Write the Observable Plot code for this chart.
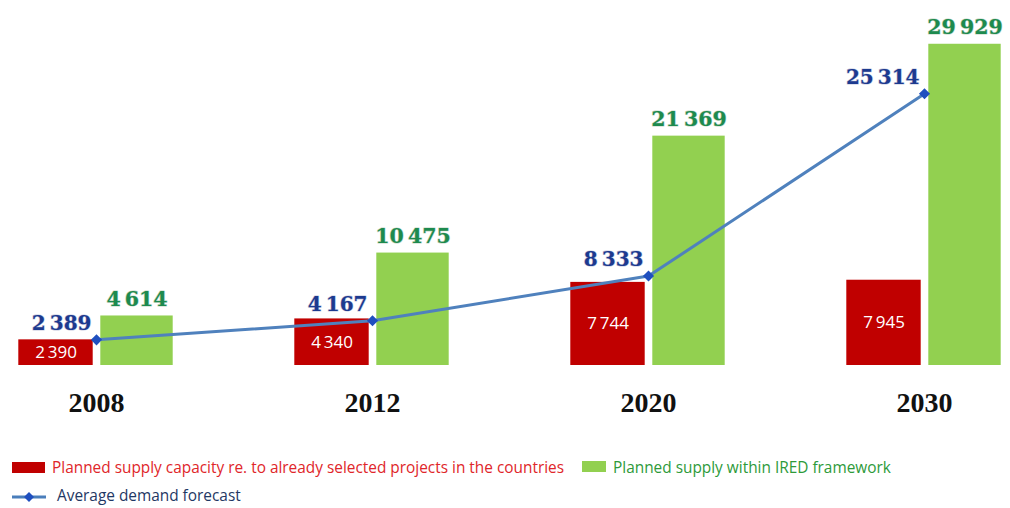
<!DOCTYPE html>
<html>
<head>
<meta charset="utf-8">
<script src="https://cdn.jsdelivr.net/npm/d3@7"></script>
<script src="https://cdn.jsdelivr.net/npm/@observablehq/plot@0.6"></script>
<style>
  html, body { margin: 0; padding: 0; background: #fff; }
  #wrap { position: relative; width: 1010px; height: 508px; overflow: hidden; }
  .leg { position: absolute; font-family: "Open Sans", sans-serif; font-size: 15.4px; white-space: nowrap; line-height: 18px; }
  .sw { position: absolute; }
</style>
</head>
<body>
<div id="wrap">
  <div id="chart"></div>
  <div class="sw" style="left:12px; top:462px; width:33px; height:11px; background:#c00000;"></div>
  <div class="leg" style="left:52px; top:459px; color:#e0262a;">Planned supply capacity re. to already selected projects in the countries</div>
  <div class="sw" style="left:582px; top:461px; width:24px; height:11px; background:#92d050;"></div>
  <div class="leg" style="left:613px; top:459px; color:#2e9a3a;">Planned supply within IRED framework</div>
  <svg class="sw" style="left:10px; top:490px;" width="38" height="14"><line x1="2" y1="7" x2="36" y2="7" stroke="#4a7ebb" stroke-width="3"/><path d="M19,2 L24,7 L19,12 L14,7 Z" fill="#1f4fbf"/></svg>
  <div class="leg" style="left:57px; top:487px; color:#1f3864;">Average demand forecast</div>
</div>
<script>
const years = ["2008", "2012", "2020", "2030"];
const selected = [2390, 4340, 7744, 7945];
const ired = [4614, 10475, 21369, 29929];
const demand = [2389, 4167, 8333, 25314];

const table = years.map((year, i) => ({year, selected: selected[i], ired: ired[i], demand: demand[i]}));
const fmt = d3.formatLocale({decimal: ".", thousands: "\u2009", grouping: [3], currency: ["", ""]}).format(",");

const chart = Plot.plot({
  width: 1010,
  height: 448,
  marginLeft: 0,
  marginRight: 0,
  marginTop: 43,
  marginBottom: 83,
  x: {type: "band", domain: years, range: [-43.3, 1063.3], padding: 0, axis: null},
  y: {domain: [0, 30000], axis: null},
  marks: [
    Plot.barY(table, {x: "year", y: "selected", fill: "#c00000", insetLeft: 60.3, insetRight: 141.3}),
    Plot.barY(table, {x: "year", y: "ired", fill: "#92d050", insetLeft: 142.3, insetRight: 61.3}),
    Plot.text(table, {x: "year", y: d => d.selected / 2, text: d => fmt(d.selected), dx: -40.5, fill: "white", fontSize: 17, fontFamily: "Open Sans"}),
    Plot.text(table, {x: "year", y: "ired", text: d => fmt(d.ired), dx: 40.5, dy: -10, lineAnchor: "bottom", fill: "#1d8a4e", fontSize: 20.5, fontWeight: "bold", fontFamily: "DejaVu Serif", stroke: "#c8d8c8", strokeWidth: 1.2, paintOrder: "stroke"}),
    Plot.line(table, {x: "year", y: "demand", stroke: "#4f81bd", strokeWidth: 3}),
    Plot.dot(table, {x: "year", y: "demand", symbol: "diamond2", fill: "#1f4fbf", r: 5}),
    Plot.text(table, {x: "year", y: "demand", text: d => fmt(d.demand), dx: -5, dy: -10, textAnchor: "end", lineAnchor: "bottom", fill: "#1c3a8f", fontSize: 20, fontWeight: "bold", fontFamily: "DejaVu Serif", fontStyle: d => d.year === "2030" ? "italic" : "normal", stroke: "#c8cce0", strokeWidth: 1.2, paintOrder: "stroke"}),
    Plot.text(years, {x: d => d, frameAnchor: "bottom", dy: 46, fill: "#111", fontSize: 28, fontWeight: "bold", fontFamily: "Liberation Serif"})
  ]
});
document.getElementById("chart").appendChild(chart);
</script>
</body>
</html>
